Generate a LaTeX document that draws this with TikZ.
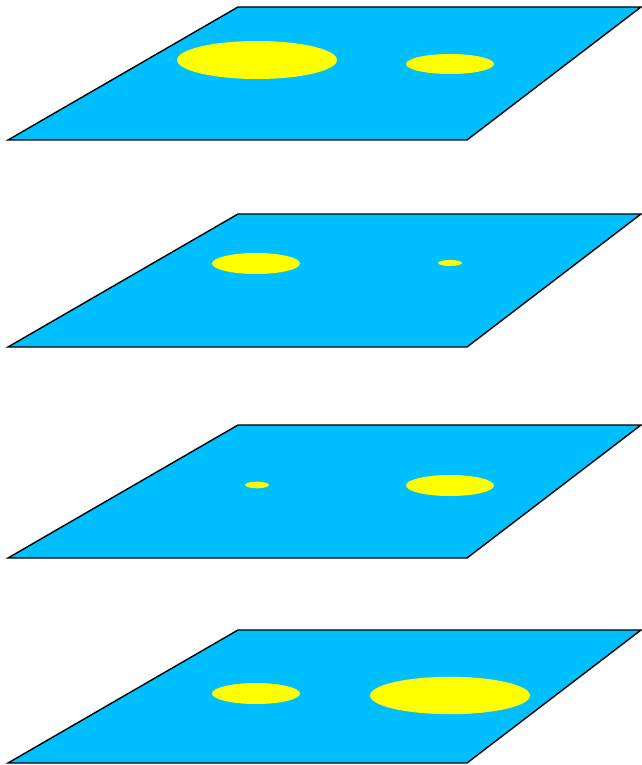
\documentclass[tikz,border=0pt]{standalone}
\usepackage{tikz}
\definecolor{planeblue}{RGB}{0, 191, 255}
\definecolor{spotyellow}{RGB}{255, 255, 0}

\begin{document}
\begin{tikzpicture}[
    x={(0.03cm,0)}, y={(0,-0.03cm)},
    plane/.style={fill=planeblue, draw=black, line width=1.2pt, line join=miter},
    spot/.style={fill=spotyellow}
]
\useasboundingbox (0,0) rectangle (641,765);

% === Capa 1 ===
\begin{scope}[shift={(0,7)}]
    \filldraw[plane] (8,133) -- (238,0) -- (641,0) -- (467,133) -- cycle;
    \fill[spot] (257,53) ellipse (80 and 19);
    \fill[spot] (450,57) ellipse (44 and 10);
\end{scope}

% === Capa 2 ===
\begin{scope}[shift={(0,214)}]
    \filldraw[plane] (8,133) -- (238,0) -- (641,0) -- (467,133) -- cycle;
    \fill[spot] (256,49.5) ellipse (44 and 10.5);
    \fill[spot] (450,49) ellipse (12 and 3);
\end{scope}

% === Capa 3 ===
\begin{scope}[shift={(0,425)}]
    \filldraw[plane] (8,133) -- (238,0) -- (641,0) -- (467,133) -- cycle;
    \fill[spot] (257,60) ellipse (12 and 3.3);
    \fill[spot] (450,60.5) ellipse (44 and 10.5);
\end{scope}

% === Capa 4 ===
\begin{scope}[shift={(0,630)}]
    \filldraw[plane] (8,133) -- (238,0) -- (641,0) -- (467,133) -- cycle;
    \fill[spot] (256,63.5) ellipse (44 and 10.5);
    \fill[spot] (450,65.5) ellipse (80 and 18.7);
\end{scope}

\end{tikzpicture}
\end{document}
